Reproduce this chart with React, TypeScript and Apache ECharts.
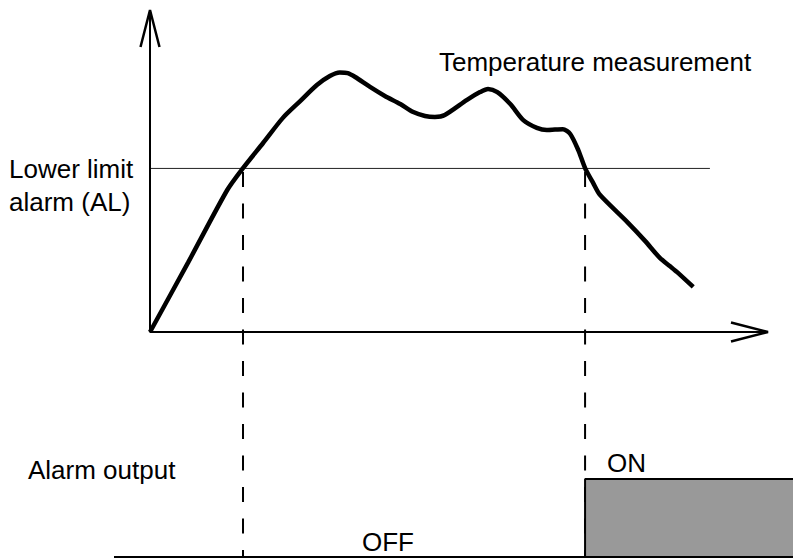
import React, { useEffect, useRef } from "react";
import * as echarts from "echarts";

// Temperature measurement curve (time, temperature)
const curveTime = [0, 6.2, 12.5, 15.05, 18.3, 21.5, 24.3, 27.0, 29.1, 30.7, 32.0, 33.2, 35.6, 38.0, 40.5, 42.6, 44.5, 46.1, 47.7, 51.3, 53.4, 54.7, 56.2, 58.3, 60.4, 62.6, 64.2, 66.8, 68.0, 69.3, 70.4, 71.7, 72.8, 77.2, 80.1, 82.5, 84.1, 85.3, 87.9];
const curveTemp = [0, 21.7, 44.1, 50.9, 58.7, 66.5, 71.7, 76.7, 79.5, 80.6, 80.4, 79.2, 76.1, 73.3, 70.8, 68.3, 67.1, 66.8, 67.4, 72.1, 74.5, 75.5, 74.5, 70.8, 65.8, 63.4, 62.7, 63.0, 61.5, 56.5, 50.9, 46.3, 42.6, 34.2, 28.3, 23.0, 20.5, 18.6, 14.0];

// Lower limit alarm level
const alarmLimit = 50.8;
const limitLineEnd = 90.6;
// Times where the measurement crosses the limit
const crossTimes = [15.05, 70.4];

// Alarm output state over time (0 = OFF, 1 = ON)
const outputTime = [-5.825, 70.4, 70.4, 104.045];
const outputState = [0, 0, 1, 1];

const axisMax = 100;

export default function App() {
  const ref = useRef<HTMLDivElement>(null);

  useEffect(() => {
    document.body.style.margin = "0";
    const chart = echarts.init(ref.current!, undefined, { renderer: "svg" });
    const font = '26px "Liberation Sans", Arial, Helvetica, sans-serif';
    const black = "#000";

    const txt = (text: string, x: number, baseline: number) => ({
      type: "text",
      x,
      y: baseline - 9,
      style: { text, font, fill: black, verticalAlign: "middle", align: "left" },
      z: 100,
    });

    const lineS = (data: number[][], width: number, extra: any = {}) => ({
      type: "line",
      data,
      symbol: "none",
      silent: true,
      lineStyle: { color: black, width, ...extra },
    });

    const series: any[] = [
      // axes
      { ...lineS([[0, axisMax], [0, 0], [axisMax, 0]], 2), xAxisIndex: 0, yAxisIndex: 0, clip: false, z: 3 },
      // lower limit line
      { ...lineS([[0, alarmLimit], [limitLineEnd, alarmLimit]], 1, { color: "#222" }), xAxisIndex: 0, yAxisIndex: 0, z: 2 },
      // dashed vertical lines
      ...crossTimes.map((t) => ({
        ...lineS([[t, alarmLimit], [t, -71]], 2, { type: [15, 16.5], dashOffset: 27.9 }),
        xAxisIndex: 0,
        yAxisIndex: 0,
        clip: false,
        z: 2,
      })),
      // temperature curve
      {
        type: "line",
        name: "Temperature measurement",
        data: curveTime.map((t, i) => [t, curveTemp[i]]),
        symbol: "none",
        smooth: 0.25,
        silent: true,
        lineStyle: { color: black, width: 4.5 },
        xAxisIndex: 0,
        yAxisIndex: 0,
        z: 5,
      },
      // alarm output baseline
      { ...lineS([[outputTime[0], 0], [outputTime[outputTime.length - 1], 0]], 2), xAxisIndex: 1, yAxisIndex: 1, clip: false, z: 4 },
      // alarm output step
      {
        type: "line",
        name: "Alarm output",
        data: outputTime.map((t, i) => [t, outputState[i]]),
        symbol: "none",
        silent: true,
        lineStyle: { color: black, width: 2 },
        areaStyle: { color: "#999999", opacity: 1, origin: 0 },
        xAxisIndex: 1,
        yAxisIndex: 1,
        z: 3,
      },
    ];

    const texts = [
      txt("Temperature measurement", 439, 71),
      txt("Lower limit", 9, 178),
      txt("alarm (AL)", 9, 211),
      txt("Alarm output", 28, 479),
      txt("ON", 607, 472),
      txt("OFF", 362, 551),
    ];

    chart.setOption({
      animation: false,
      backgroundColor: "#fff",
      grid: [
        { left: 150, right: 25, top: 10, height: 322 },
        { left: 114, right: 0, top: 479, height: 78 },
      ],
      xAxis: [
        { type: "value", gridIndex: 0, min: 0, max: axisMax, show: false },
        { type: "value", gridIndex: 1, min: outputTime[0], max: outputTime[outputTime.length - 1], show: false },
      ],
      yAxis: [
        { type: "value", gridIndex: 0, min: 0, max: axisMax, show: false },
        { type: "value", gridIndex: 1, min: 0, max: 1, show: false },
      ],
      series,
      graphic: texts,
    });

    // open arrowheads at the axis ends, placed through the axis scales
    const px = (p: number[]) => chart.convertToPixel({ gridIndex: 0 }, p) as number[];
    const yTip = px([0, axisMax]);
    const xTip = px([axisMax, 0]);
    const arrowLen = 37;
    const arrowHalf = 9.5;
    chart.setOption({
      graphic: [
        ...texts,
        {
          type: "polyline",
          shape: { points: [[yTip[0] - arrowHalf, yTip[1] + arrowLen], yTip, [yTip[0] + arrowHalf, yTip[1] + arrowLen]] },
          style: { stroke: black, lineWidth: 2.5, fill: "none" },
          z: 50,
        },
        {
          type: "polyline",
          shape: { points: [[xTip[0] - arrowLen, xTip[1] - arrowHalf], xTip, [xTip[0] - arrowLen, xTip[1] + arrowHalf]] },
          style: { stroke: black, lineWidth: 2.5, fill: "none" },
          z: 50,
        },
      ],
    });

    return () => chart.dispose();
  }, []);

  return <div ref={ref} style={{ width: 793, height: 558 }} />;
}
